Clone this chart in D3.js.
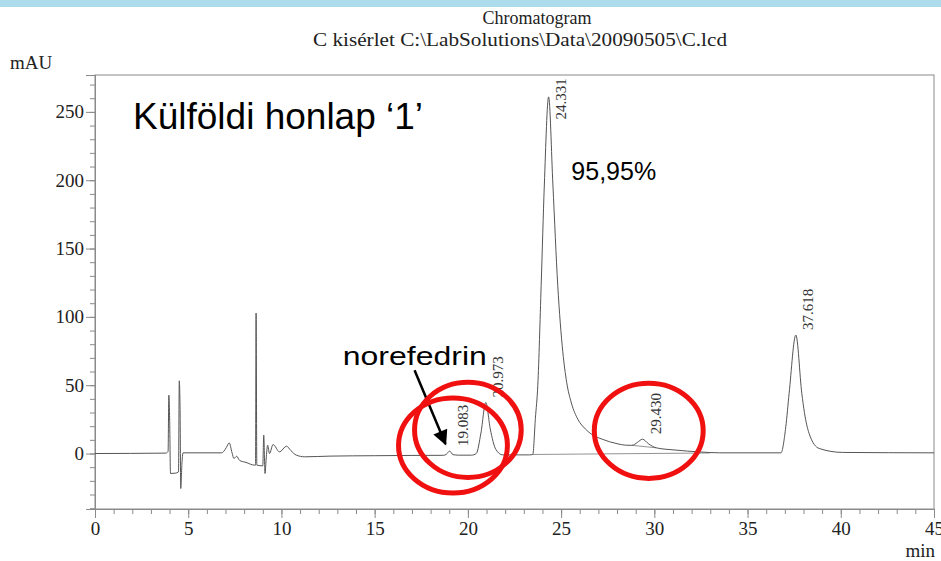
<!DOCTYPE html>
<html>
<head>
<meta charset="utf-8">
<title>Chromatogram</title>
<script src="https://cdn.jsdelivr.net/npm/d3@7"></script>
<style>
  body { margin: 0; background: #ffffff; }
  svg { display: block; }
</style>
</head>
<body>
<script>
// Retention time (min) and detector signal (mAU).
var retTime = [0, 3.8, 3.92, 3.96, 4.0, 4.05, 4.3, 4.48, 4.52, 4.56, 4.6, 4.66, 4.72,
  6.8, 6.9, 7.05, 7.2, 7.35, 7.45, 7.6, 7.75, 8.1, 8.55, 8.61, 8.64, 8.68,
  9.0, 9.05, 9.12, 9.18, 9.26, 9.36, 9.55, 9.9, 10.27, 10.5, 10.8, 11.25,
  12.6, 15.0, 17.0, 18.7, 18.85, 19.02, 19.2, 19.5, 20.2, 20.45, 20.7, 20.96,
  21.2, 21.5, 21.86, 23.3, 23.48, 23.62, 23.75, 23.93, 24.1, 24.33, 24.56,
  24.82, 25.09, 25.3, 25.55, 25.9, 26.3, 26.7, 27.2, 27.6, 28.0, 28.46, 28.8,
  29.1, 29.36, 29.7, 30.09, 31.16, 32.4, 33.5, 36.79, 37.05, 37.23, 37.59,
  37.91, 38.05, 38.3, 38.84, 40.1, 45];
var signal = [0, 0.3, 1.5, 42.7, 28, -14.6, -14.4, -13.4, 53.2, 35, -25.6, -8, 0.5,
  0.5, 1.5, 4.5, 7.8, 0.5, -3.6, -2, -5, -6.5, -8.5, -8.5, 102.8, -8.5,
  -9, 13.5, -14.6, -4, 6.1, 0, 6.6, 1.2, 5.4, 2.2, -1.2, -2.4,
  -1.9, -1.6, -1.4, -1.3, -0.5, 1.8, -0.8, -1.2, -1.2, 0, 15, 37.4,
  18, 3, -1, -1, -0.7, 25.7, 50, 123, 196.5, 261, 196.5,
  123, 74.5, 52, 37, 25, 18, 13.5, 10.5, 8.6, 7.2, 6.1, 6.0,
  8.2, 10.5, 7, 4.2, 2.5, 1.2, 0.5, 0.5, 19.5, 44, 86.7,
  44, 30, 14.7, 3.7, 0.8, 0.5];

// Integrated peaks: apex time, apex height and the printed label.
var peakTimes = [19.083, 20.973, 24.331, 29.430, 37.618];
var peakHeights = [1.8, 37.4, 261, 10.5, 86.7];
var peakLabels = ["19.083", "20.973", "24.331", "29.430", "37.618"];

// Integration baselines drawn under peaks (start/end time and level).
var baseStart = [[23.48, -0.7], [28.8, 6.0]];
var baseEnd = [[33.0, 0.4], [30.09, 4.2]];

// Axis ticks.
var xTicks = [0, 5, 10, 15, 20, 25, 30, 35, 40, 45];
var yTicks = [0, 50, 100, 150, 200, 250];

// Red circles drawn over the chart: centre time, centre mAU, radii in min / mAU.
var ringTime = [19.2, 20.0, 29.7];
var ringValue = [5.9, 17.3, 16.6];
var ringRadT = [2.92, 2.86, 2.92];
var ringRadV = [34.8, 34.8, 34.8];

var w = 941;
var h = 561;
var margin = {left: 95, right: 7, top: 75, bottom: 52};

var svg = d3.select("body").append("svg")
    .attr("width", w)
    .attr("height", h);

// light blue band on top of the slide
svg.append("rect")
    .attr("x", 0).attr("y", 0)
    .attr("width", w).attr("height", 7)
    .attr("fill", "#addcec");

var x = d3.scaleLinear().domain([0, 45]).range([margin.left, w - margin.right]);
var y = d3.scaleLinear().domain([-40.6, 277]).range([h - margin.bottom, margin.top]);

var serif = "'Liberation Serif', 'Times New Roman', serif";
var sans = "'Liberation Sans', Arial, sans-serif";
var axisColor = "#8a8a8a";

// Titles
svg.append("text")
    .attr("x", 537).attr("y", 24)
    .attr("text-anchor", "middle")
    .style("font-family", serif).style("font-size", "18px").attr("fill", "#222")
    .text("Chromatogram");
svg.append("text")
    .attr("x", 520).attr("y", 46)
    .attr("text-anchor", "middle")
    .attr("textLength", 414).attr("lengthAdjust", "spacingAndGlyphs")
    .style("font-family", serif).style("font-size", "18px").attr("fill", "#222")
    .text("C kisérlet C:\\LabSolutions\\Data\\20090505\\C.lcd");

svg.append("text")
    .attr("x", 10).attr("y", 69)
    .style("font-family", serif).style("font-size", "19px").attr("fill", "#222")
    .text("mAU");
svg.append("text")
    .attr("x", 935).attr("y", 557)
    .attr("text-anchor", "end")
    .style("font-family", serif).style("font-size", "19px").attr("fill", "#222")
    .text("min");

// Frame
svg.append("rect")
    .attr("x", x(0)).attr("y", y(277))
    .attr("width", x(45) - x(0)).attr("height", y(-40.6) - y(277))
    .attr("fill", "none")
    .attr("stroke", axisColor);

// Minor and major ticks of the y-axis.
svg.append("g")
    .attr("class", "y-minor")
    .attr("transform", "translate(" + margin.left + ",0)")
    .call(d3.axisLeft(y).tickValues(d3.range(-40, 271, 10)).tickSize(5).tickFormat(""));
svg.append("g")
    .attr("class", "y-axis")
    .attr("transform", "translate(" + margin.left + ",0)")
    .call(d3.axisLeft(y).tickValues(yTicks).tickSize(9).tickPadding(2).tickFormat(d3.format("d")));

// Minor and major ticks of the x-axis.
svg.append("g")
    .attr("class", "x-minor")
    .attr("transform", "translate(0," + (h - margin.bottom) + ")")
    .call(d3.axisBottom(x).tickValues(d3.range(0, 46, 1)).tickSize(5).tickFormat(""));
svg.append("g")
    .attr("class", "x-axis")
    .attr("transform", "translate(0," + (h - margin.bottom) + ")")
    .call(d3.axisBottom(x).tickValues(xTicks).tickSize(9).tickPadding(4).tickFormat(d3.format("d")));

svg.selectAll(".domain").attr("stroke", axisColor);
svg.selectAll(".tick line").attr("stroke", axisColor);
svg.selectAll(".tick text")
    .style("font-family", serif)
    .style("font-size", "19px")
    .attr("fill", "#222");

// Integration baselines
svg.selectAll(".baseline")
    .data(baseStart)
    .enter().append("line")
    .attr("class", "baseline")
    .attr("x1", d => x(d[0]))
    .attr("y1", d => y(d[1]))
    .attr("x2", (d, i) => x(baseEnd[i][0]))
    .attr("y2", (d, i) => y(baseEnd[i][1]))
    .attr("stroke", "#777")
    .attr("stroke-width", 0.8);

// The chromatogram trace
var trace = retTime.map((t, i) => [t, signal[i]]);
var line = d3.line()
    .x(d => x(d[0]))
    .y(d => y(d[1]))
    .curve(d3.curveMonotoneX);

svg.append("path")
    .datum(trace)
    .attr("d", line)
    .attr("fill", "none")
    .attr("stroke", "#555")
    .attr("stroke-width", 1);

// Peak labels, rotated, next to each apex.
var labelSize = 15;
svg.selectAll(".peak-label")
    .data(peakTimes)
    .enter().append("text")
    .attr("class", "peak-label")
    .attr("transform", function(d, i) {
        var len = peakLabels[i].length * labelSize * 0.46;
        var ly = Math.max(y(peakHeights[i]) - 5, margin.top + 3 + len);
        return "translate(" + (x(d) + 17) + "," + ly + ") rotate(-90)";
    })
    .style("font-family", serif)
    .style("font-size", labelSize + "px")
    .attr("fill", "#333")
    .text((d, i) => peakLabels[i]);

// Slide annotations
svg.append("text")
    .attr("x", x(2.04)).attr("y", y(237.7))
    .style("font-family", sans).style("font-size", "37px")
    .text("Külföldi honlap ‘1’");
svg.append("text")
    .attr("x", x(25.55)).attr("y", y(200))
    .style("font-family", sans).style("font-size", "25px")
    .text("95,95%");
svg.append("text")
    .attr("x", x(13.29)).attr("y", y(64.7))
    .attr("textLength", 144).attr("lengthAdjust", "spacingAndGlyphs")
    .style("font-family", sans).style("font-size", "26px")
    .text("norefedrin");

// Arrow pointing to the norefedrin peak
svg.append("defs").append("marker")
    .attr("id", "arrowhead")
    .attr("viewBox", "0 0 10 10")
    .attr("refX", 9).attr("refY", 5)
    .attr("markerWidth", 6.5).attr("markerHeight", 6)
    .attr("markerUnits", "strokeWidth")
    .attr("orient", "auto")
    .append("path")
    .attr("d", "M0,0 L10,5 L0,10 Z")
    .attr("fill", "#000");

svg.append("line")
    .attr("x1", x(17.14)).attr("y1", y(61))
    .attr("x2", x(18.8)).attr("y2", y(6.9))
    .attr("stroke", "#000")
    .attr("stroke-width", 2.5)
    .attr("marker-end", "url(#arrowhead)");

// Red circles
svg.selectAll(".ring")
    .data(ringTime)
    .enter().append("ellipse")
    .attr("class", "ring")
    .attr("cx", d => x(d))
    .attr("cy", (d, i) => y(ringValue[i]))
    .attr("rx", (d, i) => x(ringRadT[i]) - x(0))
    .attr("ry", (d, i) => y(0) - y(ringRadV[i]))
    .attr("fill", "none")
    .attr("stroke", "#f01010")
    .attr("stroke-width", 5);
</script>
</body>
</html>
